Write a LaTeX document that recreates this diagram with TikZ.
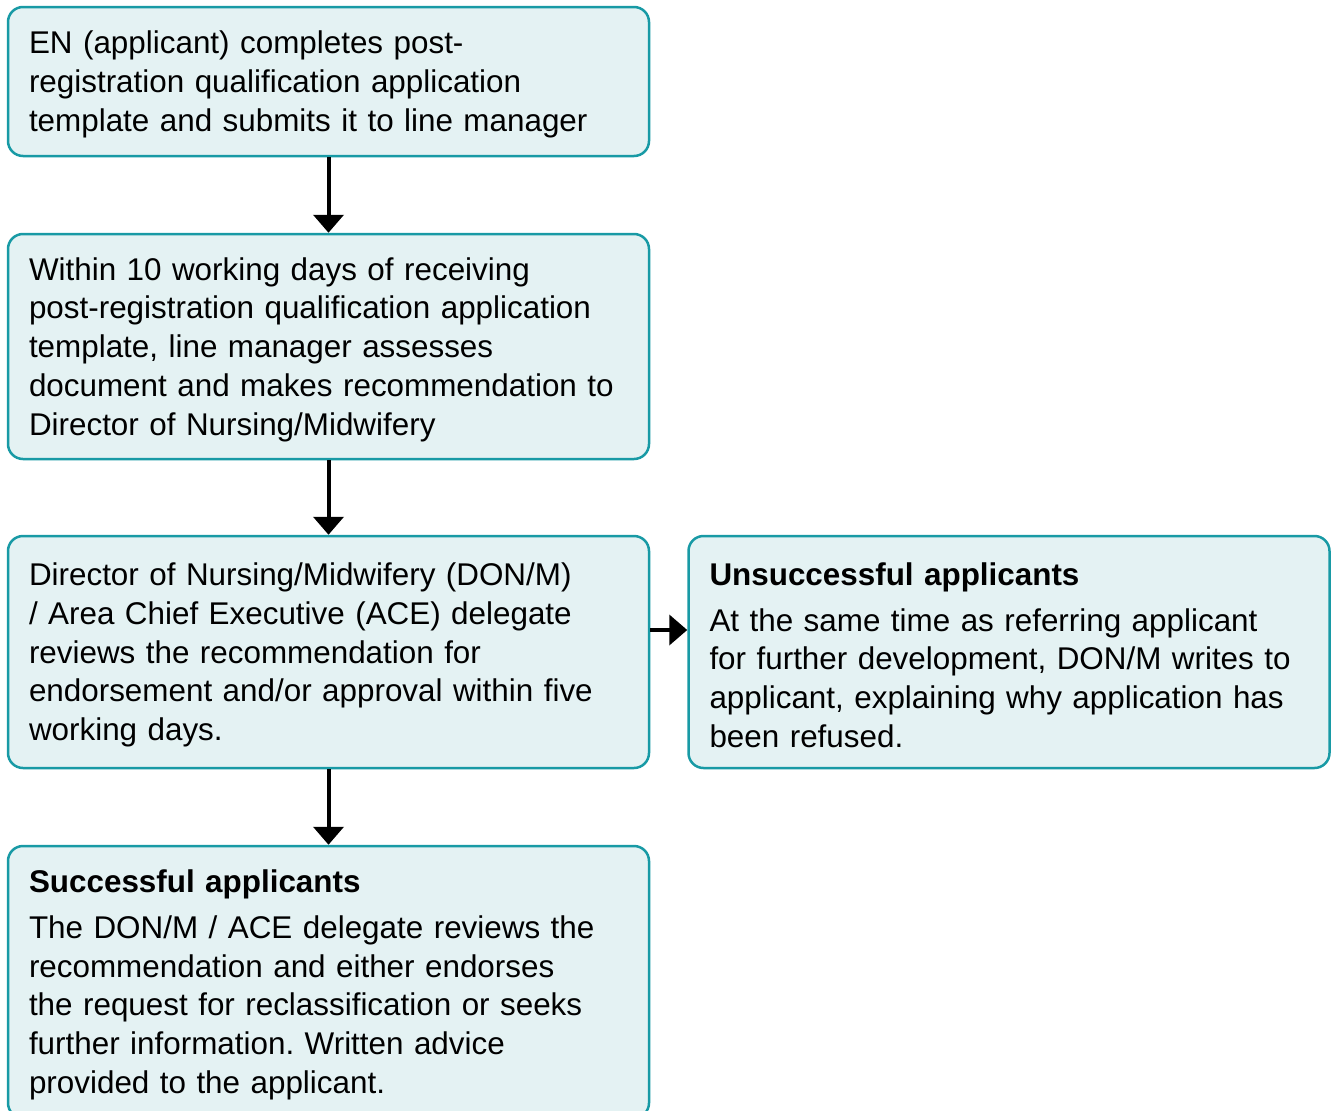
\documentclass[tikz,border=0pt]{standalone}
\usepackage{fontspec}
\setmainfont{Liberation Sans}
\frenchspacing
\usetikzlibrary{arrows.meta}
\definecolor{boxline}{RGB}{24,154,165}
\definecolor{boxfill}{RGB}{228,242,243}
\newcommand{\boxpad}{\endgraf\vspace*{-6pt}}
\begin{document}
\begin{tikzpicture}[x=1pt,y=1pt,
  flowbox/.style={draw=boxline, fill=boxfill, line width=2.5pt, rounded corners=15pt,
    text width=599pt, inner xsep=21pt, inner ysep=0pt, align=left,
    font=\fontsize{31.4}{38.7}\selectfont, minimum width=641pt,
    execute at end node=\boxpad},
  flowarrow/.style={line width=4pt, -{Triangle[width=30pt,length=18pt]}}]
\clip (0,0) rectangle (1336,-1111);
\useasboundingbox (0,0) rectangle (1336,-1111);
\node[flowbox, minimum height=149pt] (b1) at (328.5,-81.5)
 {EN (applicant) completes post-\\registration qualification application\\template and submits it to line manager};
\node[flowbox, minimum height=225pt] (b2) at (328.5,-346.5)
 {Within 10 working days of receiving\\post-registration qualification application\\template, line manager assesses\\document and makes recommendation to\\Director of Nursing/Midwifery};
\node[flowbox, minimum height=232pt] (b3) at (328.5,-652)
 {Director of Nursing/Midwifery (DON/M)\\/ Area Chief Executive (ACE) delegate\\reviews the recommendation for\\endorsement and/or approval within five\\working days.};
\node[flowbox, minimum height=232pt] (b4) at (1009,-652)
 {\textbf{Unsuccessful applicants}\\[7pt]At the same time as referring applicant\\for further development, DON/M writes to\\applicant, explaining why application has\\been refused.};
\node[flowbox, minimum height=272pt] (b5) at (328.5,-982)
 {\textbf{Successful applicants}\\[7pt]The DON/M / ACE delegate reviews the\\recommendation and either endorses\\the request for reclassification or seeks\\further information. Written advice\\provided to the applicant.};
\draw[flowarrow] (b1.south) -- (b2.north);
\draw[flowarrow] (b2.south) -- (b3.north);
\draw[flowarrow] (b3.south) -- (b5.north);
\draw[flowarrow] ([yshift=22pt]b3.east) -- ([yshift=22pt]b4.west);
\end{tikzpicture}
\end{document}
